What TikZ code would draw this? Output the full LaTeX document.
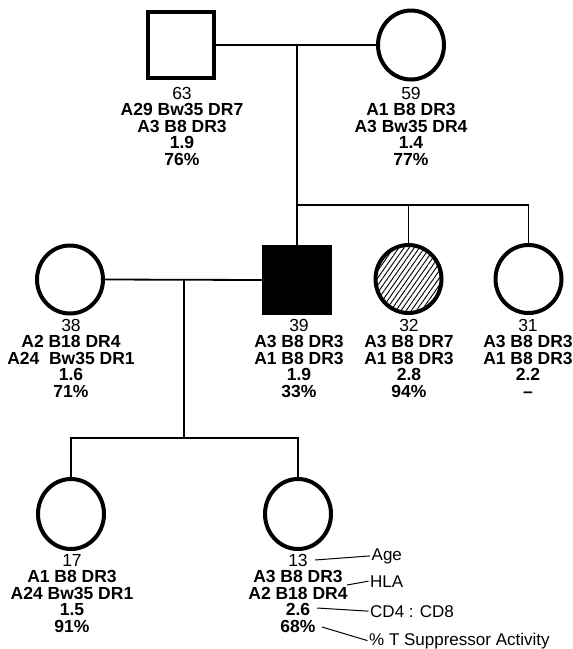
\documentclass[tikz,border=0pt]{standalone}
\usepackage{fontspec}
\setmainfont{Liberation Sans}
\usetikzlibrary{shapes.geometric,patterns.meta}
\begin{document}
\begin{tikzpicture}[x=1pt,y=-1pt,
  conn/.style={line width=1.8pt},
  sqr/.style={draw, line width=4pt, rectangle, minimum width=66pt, minimum height=66pt, inner sep=0pt},
  circ/.style={draw, line width=4pt, ellipse, minimum width=66pt, minimum height=68pt, inner sep=0pt},
  info/.style={anchor=north, align=center, inner sep=0pt, font=\fontsize{17.5}{16.5}\selectfont},
  lbl/.style={anchor=base west, inner sep=1.5pt, font=\fontsize{17}{17}\selectfont},
  lead/.style={line width=1pt}]
\useasboundingbox (0,0) rectangle (573,649);
% generation I
\node[sqr] (F) at (180.5,45) {};
\node[circ, minimum height=69pt] (M) at (411,45) {};
% generation II
\node[circ] (W) at (70,279.5) {};
\node[sqr, fill=black] (S) at (297,280) {};
\node[circ, pattern={Lines[angle=55,distance=4.2pt,line width=0.9pt]}] (H) at (408.5,279) {};
\node[circ] (T) at (528.5,279) {};
% generation III
\node[circ, minimum height=70pt] (D1) at (71,514) {};
\node[circ, minimum height=70pt] (D2) at (298,514) {};
% connectors
\coordinate (m1) at (297,45);
\coordinate (m2) at (297,205);
\coordinate (m3) at (184,279.5);
\coordinate (m4) at (184,438);
\draw[conn] (F.east) -- (M.west);
\draw[conn] (m1) -- (m2);
\draw[conn] (S.north) -- (m2) -- (m2 -| T.north) -- (T.north);
\draw[conn] (H.north |- m2) -- (H.north);
\draw[conn] (W.east) -- (S.west);
\draw[conn] (m3) -- (m4);
\draw[conn] (D1.north) -- (D1.north |- m4) -- (D2.north |- m4) -- (D2.north);
% texts
\node[info] (tF) at (182,87) {63\\\textbf{A29 Bw35 DR7}\\\textbf{A3 B8 DR3}\\\textbf{1.9}\\\textbf{76\%}};
\node[info] (tM) at (411,87) {59\\\textbf{A1 B8 DR3}\\\textbf{A3 Bw35 DR4}\\\textbf{1.4}\\\textbf{77\%}};
\node[info] (tW) at (71,319) {38\\\textbf{A2 B18 DR4}\\\textbf{A24\ \ Bw35 DR1}\\\textbf{1.6}\\\textbf{71\%}};
\node[info] (tS) at (299,319) {39\\\textbf{A3 B8 DR3}\\\textbf{A1 B8 DR3}\\\textbf{1.9}\\\textbf{33\%}};
\node[info] (tH) at (409,319) {32\\\textbf{A3 B8 DR7}\\\textbf{A1 B8 DR3}\\\textbf{2.8}\\\textbf{94\%}};
\node[info] (tT) at (528,319) {31\\\textbf{A3 B8 DR3}\\\textbf{A1 B8 DR3}\\\textbf{2.2}\\\textbf{--}};
\node[info] (tD1) at (72,554) {17\\\textbf{A1 B8 DR3}\\\textbf{A24 Bw35 DR1}\\\textbf{1.5}\\\textbf{91\%}};
\node[info] (tD2) at (298,554) {13\\\textbf{A3 B8 DR3}\\\textbf{A2 B18 DR4}\\\textbf{2.6}\\\textbf{68\%}};
% legend
\node[lbl] (lAge) at (370,560) {Age};
\node[lbl] (lHLA) at (368.5,587) {HLA};
\node[lbl] (lCD) at (368.5,617) {CD4 : CD8};
\node[lbl] (lPct) at (367.5,645) {\% T Suppressor Activity};
\coordinate (a1) at (315,560);
\coordinate (h1) at (347,585);
\coordinate (c1) at (317,608);
\coordinate (p1) at (322,627);
\draw[lead] (a1) -- (lAge.west);
\draw[lead] (h1) -- (lHLA.west);
\draw[lead] (c1) -- (lCD.west);
\draw[lead] (p1) -- (lPct.west);
\end{tikzpicture}
\end{document}
